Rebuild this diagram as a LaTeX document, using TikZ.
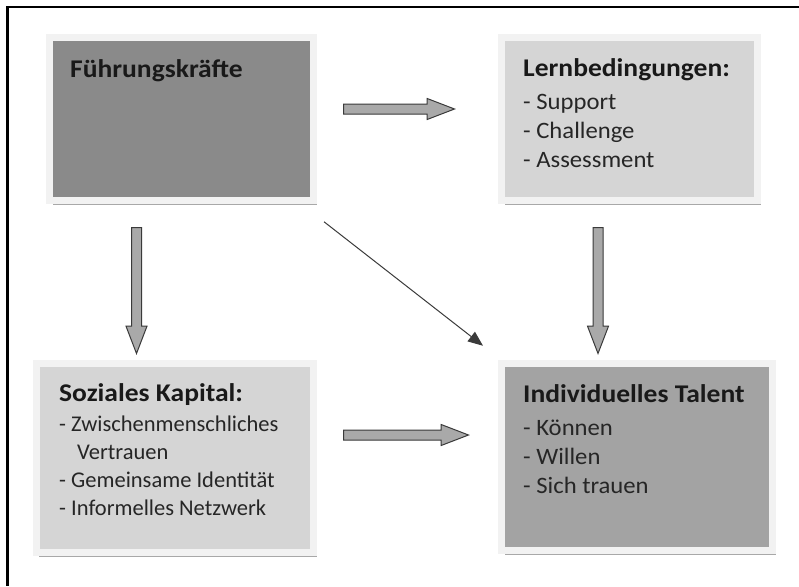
\documentclass[tikz,border=0pt]{standalone}
\usepackage{fontspec}
\setmainfont{Carlito}
\newfontfamily\titlefont[FakeStretch=1.08]{Carlito}
\newfontfamily\bodyfont[FakeStretch=1.05]{Carlito}
\usetikzlibrary{shapes.arrows,shadows,arrows.meta,calc}
\definecolor{darkbox}{HTML}{8A8A8A}
\definecolor{midbox}{HTML}{A3A3A3}
\definecolor{lightbox}{HTML}{D5D5D5}
\definecolor{rim}{HTML}{F2F2F2}
\definecolor{shade}{HTML}{A8A8A8}
\definecolor{arrowfill}{HTML}{A9A9A9}
\definecolor{arrowline}{HTML}{3A3A3A}
\definecolor{ink}{HTML}{262626}

\newcommand{\boxtitle}[1]{{\titlefont\fontsize{25.5}{28}\selectfont\bfseries\color{black!90}#1}}

\tikzset{
	box/.style={rectangle, draw=rim, line width=7pt, inner sep=0pt,
		drop shadow={shadow xshift=3pt, shadow yshift=-4pt, fill=shade, opacity=1}},
	boxtext/.style={anchor=base west, inner sep=0pt, align=left, text=ink,
		font=\bodyfont\fontsize{23.5}{29}\selectfont},
	blockarrow/.style={single arrow, draw=arrowline, fill=arrowfill, line width=1pt,
		inner sep=0pt, inner ysep=4.5pt, single arrow head extend=5.5pt,
		single arrow tip angle=42, anchor=center},
}

\begin{document}
\begin{tikzpicture}[x=1pt,y=-1pt]
			\useasboundingbox (0,0) rectangle (799,586);
			%\draw[help lines] (0,0) grid (799,586);
			
			\draw[line width=2.5pt] (799,7) -- (7.5,7) -- (7.5,586);
			
			% boxes
			\node[box, fill=darkbox, minimum width=264pt, minimum height=163.5pt] (fk) at (181.5,119) {};
			\node[box, fill=lightbox, minimum width=256pt, minimum height=163.5pt] (lb) at (629.5,119) {};
			\node[box, fill=lightbox, minimum width=277.5pt, minimum height=189pt] (sk) at (175,458) {};
			\node[box, fill=midbox, minimum width=271pt, minimum height=187.5pt] (it) at (637,457) {};
			
			% texts (anchored at the last baseline)
			\node[boxtext] (fk-text) at (70,77) {\boxtitle{Führungskräfte}};
			\node[boxtext] (lb-text) at (523,167) {\boxtitle{Lernbedingungen:}\\[4pt]
				- Support\\
				- Challenge\\
				- Assessment};
			\node[boxtext, font=\fontsize{22.5}{28}\selectfont] (sk-text) at (59,515.5) {\boxtitle{Soziales Kapital:}\\[2pt]
				- Zwischenmenschliches\\
				\hspace{18pt}Vertrauen\\
				- Gemeinsame Identität\\
				- Informelles Netzwerk};
			\node[boxtext] (it-text) at (523,493) {\boxtitle{Individuelles Talent}\\[3.5pt]
				- Können\\
				- Willen\\
				- Sich trauen};
			
			% block arrows
			\node[blockarrow, minimum height=111pt] (fk-lb) at (392.5,109) {};
			\node[blockarrow, minimum height=125pt] (sk-it) at (399.5,435) {};
			\node[blockarrow, minimum height=126pt, rotate=-90] (fk-sk) at (136.5,284) {};
			\node[blockarrow, minimum height=126pt, rotate=-90] (lb-it) at (598,284) {};
			
			% thin arrow
			\draw[line width=1pt, arrowline, -{Triangle[length=15pt,width=12pt]}]
				($(fk.south east)+(7,17.5)$) -- ($(it.north west)+(-15,-14)$);
			
			\end{tikzpicture}
\end{document}
